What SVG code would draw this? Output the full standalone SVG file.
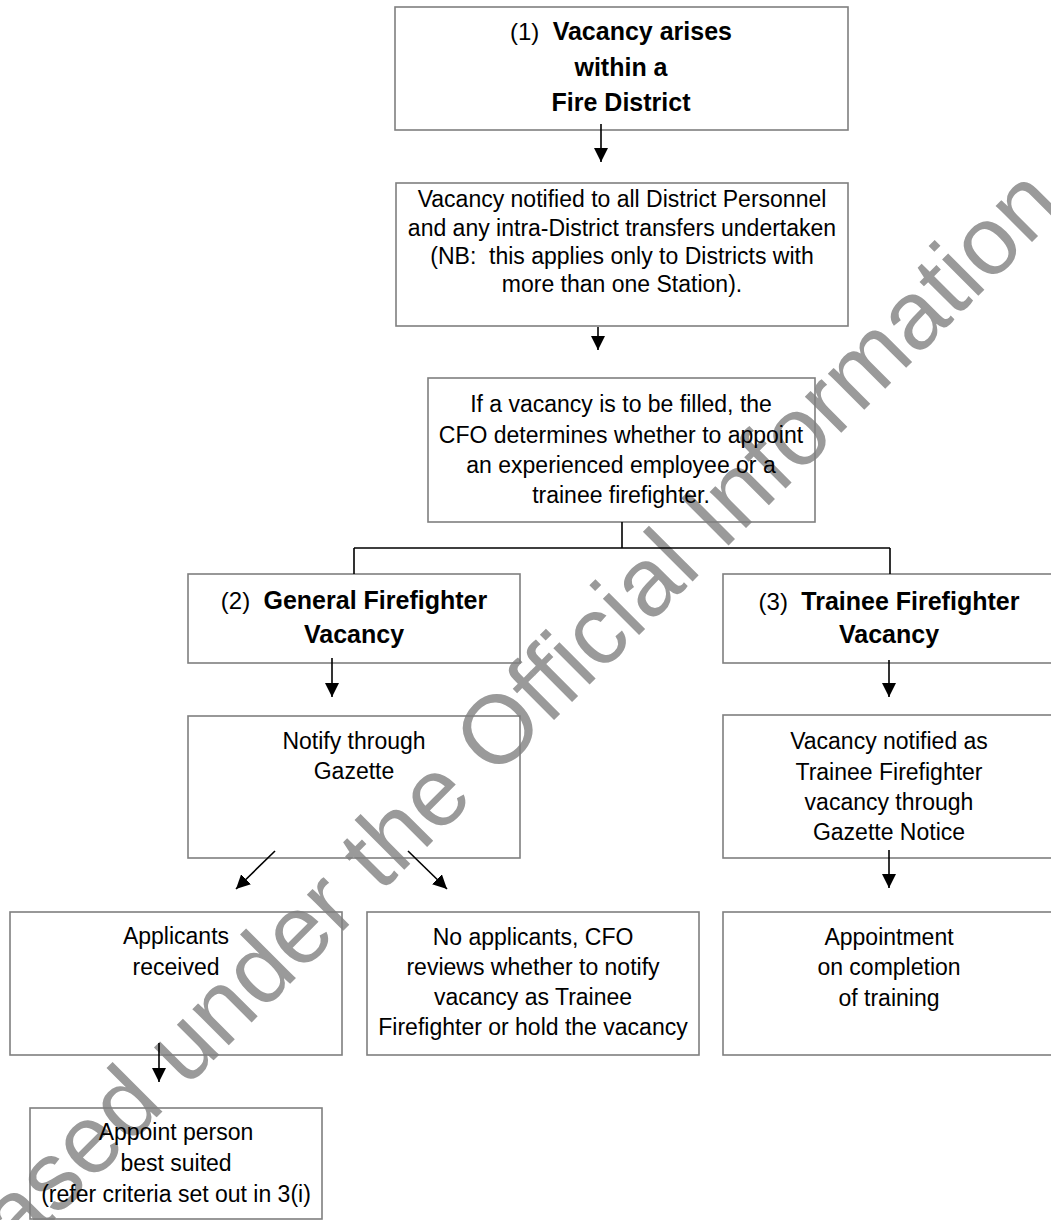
<svg xmlns="http://www.w3.org/2000/svg" width="1051" height="1220" viewBox="0 0 1051 1220">
<style>
  text { font-family: "Liberation Sans", Arial, sans-serif; fill: #000; }
  .t { font-size: 23px; text-anchor: middle; }
  .h { font-size: 25px; text-anchor: middle; }
  .r { font-size: 24px; }
  .b { font-weight: bold; }
  .box { fill: none; stroke: #7f7f7f; stroke-width: 1.6; }
  .conn { fill: none; stroke: #000; stroke-width: 1.6; }
  .wm { font-size: 97px; fill: #9a9a9a; }
</style>
<defs>
  <marker id="ah" markerUnits="userSpaceOnUse" markerWidth="14" markerHeight="14" refX="14" refY="7" orient="auto">
    <path d="M0,0 L14,7 L0,14 z" fill="#000"/>
  </marker>
</defs>
<rect width="1051" height="1220" fill="#fff"/>

<g id="watermark">
  <text class="wm" transform="translate(-123,1397) rotate(-45)">Released under the Official Information</text>
</g>

<g id="n1">
  <rect class="box" x="395" y="7" width="453" height="123"/>
  <text class="h" x="621" y="40"><tspan class="r">(1)&#160; </tspan><tspan class="b">Vacancy arises</tspan></text>
  <text class="h b" x="621" y="76">within a</text>
  <text class="h b" x="621" y="111">Fire District</text>
</g>

<g id="n2">
  <rect class="box" x="396" y="183" width="452" height="143"/>
  <text class="t" x="622" y="207">Vacancy notified to all District Personnel</text>
  <text class="t" x="622" y="236">and any intra-District transfers undertaken</text>
  <text class="t" x="622" y="264">(NB:&#160; this applies only to Districts with</text>
  <text class="t" x="622" y="292">more than one Station).</text>
</g>

<g id="n3">
  <rect class="box" x="428" y="378" width="387" height="144"/>
  <text class="t" x="621" y="412">If a vacancy is to be filled, the</text>
  <text class="t" x="621" y="443">CFO determines whether to appoint</text>
  <text class="t" x="621" y="473">an experienced employee or a</text>
  <text class="t" x="621" y="503">trainee firefighter.</text>
</g>

<g id="n4">
  <rect class="box" x="188" y="574" width="332" height="89"/>
  <text class="h" x="354" y="609"><tspan class="r">(2)&#160; </tspan><tspan class="b">General Firefighter</tspan></text>
  <text class="h b" x="354" y="643">Vacancy</text>
</g>

<g id="n5">
  <rect class="box" x="188" y="716" width="332" height="142"/>
  <text class="t" x="354" y="749">Notify through</text>
  <text class="t" x="354" y="779">Gazette</text>
</g>

<g id="n6">
  <rect class="box" x="723" y="574" width="332" height="89"/>
  <text class="h" x="889" y="610"><tspan class="r">(3)&#160; </tspan><tspan class="b">Trainee Firefighter</tspan></text>
  <text class="h b" x="889" y="643">Vacancy</text>
</g>

<g id="n7">
  <rect class="box" x="723" y="715" width="332" height="143"/>
  <text class="t" x="889" y="749">Vacancy notified as</text>
  <text class="t" x="889" y="780">Trainee Firefighter</text>
  <text class="t" x="889" y="810">vacancy through</text>
  <text class="t" x="889" y="840">Gazette Notice</text>
</g>

<g id="n8">
  <rect class="box" x="10" y="912" width="332" height="143"/>
  <text class="t" x="176" y="944">Applicants</text>
  <text class="t" x="176" y="975">received</text>
</g>

<g id="n9">
  <rect class="box" x="367" y="912" width="332" height="143"/>
  <text class="t" x="533" y="945">No applicants, CFO</text>
  <text class="t" x="533" y="975">reviews whether to notify</text>
  <text class="t" x="533" y="1005">vacancy as Trainee</text>
  <text class="t" x="533" y="1035">Firefighter or hold the vacancy</text>
</g>

<g id="n10">
  <rect class="box" x="723" y="912" width="332" height="143"/>
  <text class="t" x="889" y="945">Appointment</text>
  <text class="t" x="889" y="975">on completion</text>
  <text class="t" x="889" y="1006">of training</text>
</g>

<g id="n11">
  <rect class="box" x="30" y="1108" width="292" height="111"/>
  <text class="t" x="176" y="1140">Appoint person</text>
  <text class="t" x="176" y="1171">best suited</text>
  <text class="t" x="176" y="1202">(refer criteria set out in 3(i)</text>
</g>

<g id="connectors">
  <line class="conn" x1="601" y1="124" x2="601" y2="162" marker-end="url(#ah)"/>
  <line class="conn" x1="598" y1="327" x2="598" y2="350" marker-end="url(#ah)"/>
  <path class="conn" d="M622,522 V548 M354,548 H890 M354,548 V574 M890,548 V574"/>
  <line class="conn" x1="332" y1="658" x2="332" y2="697" marker-end="url(#ah)"/>
  <line class="conn" x1="275" y1="851" x2="236" y2="889" marker-end="url(#ah)"/>
  <line class="conn" x1="408" y1="851" x2="447" y2="889" marker-end="url(#ah)"/>
  <line class="conn" x1="159" y1="1043" x2="159" y2="1082" marker-end="url(#ah)"/>
  <line class="conn" x1="889" y1="660" x2="889" y2="697" marker-end="url(#ah)"/>
  <line class="conn" x1="889" y1="850" x2="889" y2="888" marker-end="url(#ah)"/>
</g>
</svg>
